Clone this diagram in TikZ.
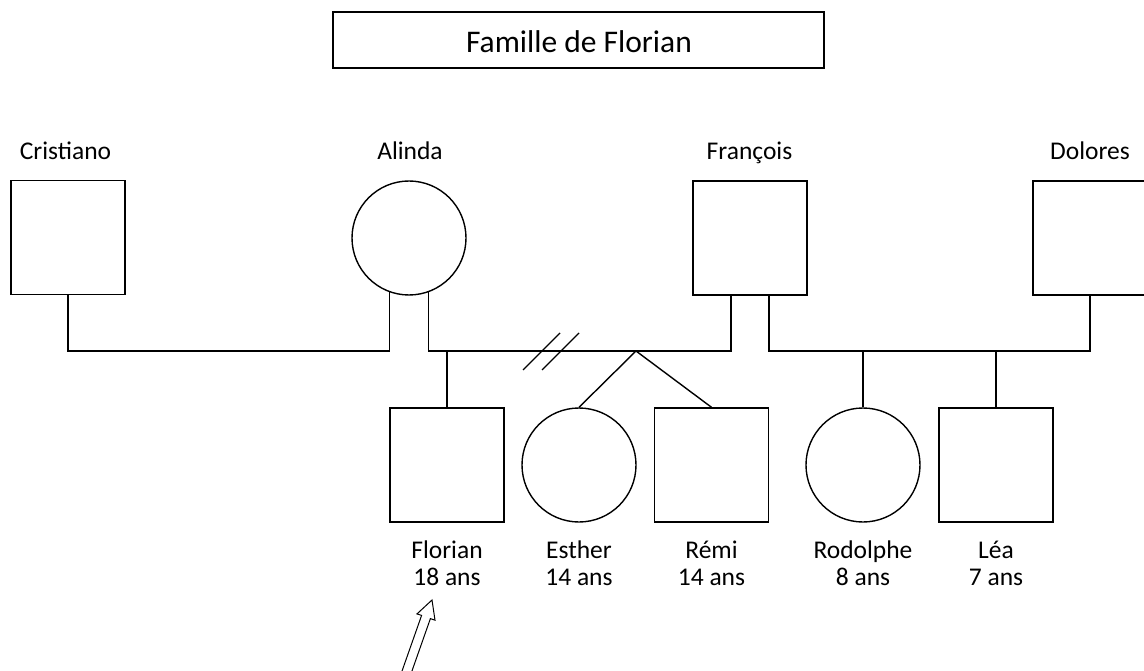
\documentclass[tikz,border=0pt]{standalone}
\usepackage{fontspec}
\setmainfont{Carlito}
\begin{document}
\begin{tikzpicture}[x=1pt,y=-1pt,line width=1.4pt,
  male/.style={draw,rectangle,minimum width=114pt,minimum height=114pt,inner sep=0pt},
  female/.style={draw,circle,minimum size=114pt,inner sep=0pt},
  lbl/.style={font=\fontsize{25.5}{28}\selectfont,inner sep=0pt,anchor=base}]
\useasboundingbox[fill=white] (0,0) rectangle (1144,671);
% title
\node[draw,line width=2pt,minimum width=491pt,minimum height=56pt] (title) at (578.5,40) {};
\node[font=\fontsize{31.5}{34}\selectfont,inner sep=0pt,anchor=base] (ttext) at (579,53) {Famille de Florian};
% persons
\node[male]   (cris)     at (68,237.5)  {};
\node[female] (alinda)   at (409,238)   {};
\node[male]   (franc)    at (750,238)   {};
\node[male]   (dolores)  at (1090,238)  {};
\node[male]   (florian)  at (447,465)   {};
\node[female] (esther)   at (579,465)   {};
\node[male]   (remi)     at (711.5,465) {};
\node[female] (rodolphe) at (863,465)   {};
\node[male]   (lea)      at (996,465)   {};
% names
\node[lbl] (lcris)   at (65.5,160)  {Cristiano};
\node[lbl] (lalinda) at (410,160)   {Alinda};
\node[lbl] (lfranc)  at (749.5,160) {François};
\node[lbl] (ldol)    at (1090,160)  {Dolores};
\node[lbl] (lflo)  at (447,558)   {Florian};
\node[lbl] (lflo2) at (447,585)   {18 ans};
\node[lbl] (lest)  at (579,558)   {Esther};
\node[lbl] (lest2) at (579,585)   {14 ans};
\node[lbl] (lrem)  at (711.5,558) {Rémi};
\node[lbl] (lrem2) at (711.5,585) {14 ans};
\node[lbl] (lrod)  at (863,558)   {Rodolphe};
\node[lbl] (lrod2) at (863,585)   {8 ans};
\node[lbl] (llea)  at (996,558)   {Léa};
\node[lbl] (llea2) at (996,585)   {7 ans};
% connectors
\coordinate (bar) at (0,351);
\coordinate (tw) at (636,351);
\draw (cris.south) |- (alinda.250 |- bar) -- (alinda.250);
\draw (alinda.290) -- (alinda.290 |- bar) -| ([xshift=-19pt]franc.south);
\draw ([xshift=19pt]franc.south) -- ([xshift=19pt]franc.south |- bar) -| (dolores.south);
\draw (florian.north) -- (florian.north |- bar);
\draw (esther.north) -- (tw) -- (remi.north);
\draw (rodolphe.north) -- (rodolphe.north |- bar);
\draw (lea.north) -- (lea.north |- bar);
% divorce mark
\draw (523,370) -- (560,333);
\draw (542,370) -- (579,333);
% arrow
\draw[fill=white,line width=1pt,line join=miter] (432,600) -- (435,620.2) -- (430.4,618.6) -- (397.2,712.9) -- (388.4,709.7) -- (421.6,615.4) -- (417,613.9) -- cycle;
\end{tikzpicture}
\end{document}
